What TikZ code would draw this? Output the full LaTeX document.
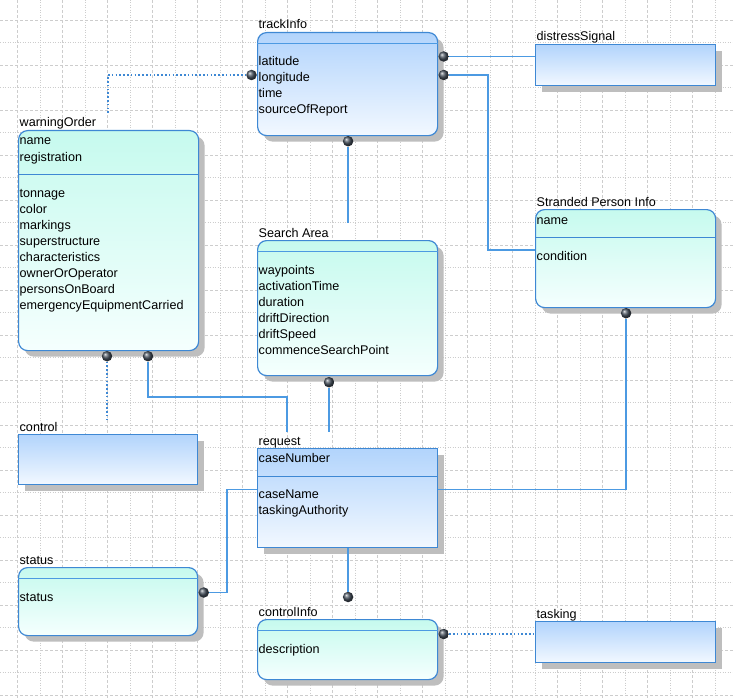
\documentclass[tikz,border=0pt]{standalone}
\usepackage{fontspec}
\setmainfont{Liberation Sans}
\usetikzlibrary{shadows, calc, backgrounds}
\definecolor{erBorder}{RGB}{62, 136, 212}
\definecolor{erLine}{RGB}{76, 154, 226}
\definecolor{blueTop}{RGB}{178, 212, 252}
\definecolor{blueBot}{RGB}{242, 248, 255}
\definecolor{cyanTop}{RGB}{198, 250, 238}
\definecolor{cyanBot}{RGB}{245, 255, 254}
\definecolor{gridGray}{RGB}{205, 205, 205}
\definecolor{shadowGray}{RGB}{190, 190, 190}
\definecolor{dotGray}{RGB}{70, 80, 92}
\tikzset{
    x=1bp, y=-1bp, % 以像素为单位，y 轴向下
    font=\fontsize{12.6bp}{16bp}\selectfont,
    %
    % 基础实体框
    baseBox/.style={
        draw=erBorder, line width=1.2bp, inner sep=0pt,
        anchor=north west, minimum width=180bp,
        drop shadow={shadow xshift=6bp, shadow yshift=-6bp, fill=shadowGray, opacity=1}
    },
    %
    blueBox/.style={baseBox, top color=blueTop, bottom color=blueBot},
    cyanBox/.style={baseBox, top color=cyanTop, bottom color=cyanBot},
    roundBox/.style={rounded corners=9bp},
    %
    % 文字
    entTitle/.style={anchor=base west, inner sep=0pt, xshift=1.5bp, yshift=3bp},
    attr/.style={anchor=base west, inner sep=0pt},
    %
    % 分隔线
    headSep/.style={draw=erLine, line width=1.8bp},
    keySep/.style={draw=erBorder, line width=1bp},
    %
    % 连线样式
    conn/.style={draw=erLine, line width=1.6bp},
    optConn/.style={draw=erBorder, line width=1.2bp, dash pattern=on 1.6bp off 2.2bp},
    dot/.style={circle, inner sep=0pt, minimum size=10.5bp, ball color=dotGray},
    gridDash/.style={draw=gridGray, line width=0.7bp, dash pattern=on 3bp off 2bp},
    gridDot/.style={draw=gridGray, line width=0.7bp, dash pattern=on 1bp off 1.5bp}
}

\begin{document}
\begin{tikzpicture}

	%% 背景网格
	\useasboundingbox (0,0) rectangle (733,698);
	\fill[white] (0,0) rectangle (733,698);
	\foreach \k in {0,...,32}{
		\pgfmathsetmacro\gs{isodd(\k) ? "gridDot" : "gridDash"}
		\draw[\gs] ({17.5+22.5*\k},0) -- ({17.5+22.5*\k},698);
	}
	\foreach \k in {0,...,30}{
		\pgfmathsetmacro\gs{isodd(\k) ? "gridDot" : "gridDash"}
		\draw[\gs] (0,{20+22.5*\k}) -- (733,{20+22.5*\k});
	}

	%% 实体框
	\node[blueBox, roundBox, minimum height=103bp] (track) at (257,32) {};
	\node[blueBox, minimum height=41bp] (distress) at (535,44) {};
	\node[cyanBox, roundBox, minimum height=220bp] (warn) at (18,130) {};
	\node[cyanBox, roundBox, minimum height=135bp] (search) at (257,240) {};
	\node[cyanBox, roundBox, minimum height=98bp] (stranded) at (535,209) {};
	\node[blueBox, minimum width=179bp, minimum height=50bp] (control) at (18,434) {};
	\node[blueBox, minimum height=99bp] (request) at (257,448) {};
	\node[cyanBox, roundBox, minimum width=179bp, minimum height=68bp] (status) at (18,567) {};
	\node[cyanBox, roundBox, minimum height=60bp] (ctrlInfo) at (257,619) {};
	\node[blueBox, minimum height=41bp] (tasking) at (535,621) {};

	%% 标题
	\node[entTitle] (trackT) at (track.north west) {trackInfo};
	\node[entTitle] (distressT) at (distress.north west) {distressSignal};
	\node[entTitle] (warnT) at (warn.north west) {warningOrder};
	\node[entTitle] (searchT) at (search.north west) {Search Area};
	\node[entTitle] (strandedT) at (stranded.north west) {Stranded Person Info};
	\node[entTitle] (controlT) at (control.north west) {control};
	\node[entTitle] (requestT) at (request.north west) {request};
	\node[entTitle] (statusT) at (status.north west) {status};
	\node[entTitle] (ctrlInfoT) at (ctrlInfo.north west) {controlInfo};
	\node[entTitle] (taskingT) at (tasking.north west) {tasking};

	%% 分隔线
	\draw[headSep] ($(track.north west)+(0,11.5)$) -- ($(track.north east)+(0,11.5)$);
	\draw[headSep] ($(search.north west)+(0,11.5)$) -- ($(search.north east)+(0,11.5)$);
	\draw[headSep] ($(status.north west)+(0,11.5)$) -- ($(status.north east)+(0,11.5)$);
	\draw[headSep] ($(ctrlInfo.north west)+(0,11.5)$) -- ($(ctrlInfo.north east)+(0,11.5)$);
	\draw[keySep] ($(warn.north west)+(0,44)$) -- ($(warn.north east)+(0,44)$);
	\draw[keySep] ($(stranded.north west)+(0,28)$) -- ($(stranded.north east)+(0,28)$);
	\draw[keySep] ($(request.north west)+(0,28)$) -- ($(request.north east)+(0,28)$);

	%% 属性
	\foreach \a [count=\i from 0] in {latitude, longitude, time, sourceOfReport}
		\node[attr] (trackA\i) at ($(track.north west)+(1.5,34+16*\i)$) {\a};
	\foreach \a [count=\i from 0] in {name, registration}
		\node[attr] (warnK\i) at ($(warn.north west)+(1.5,15+16*\i)$) {\a};
	\foreach \a [count=\i from 0] in {tonnage, color, markings, superstructure, characteristics,
			ownerOrOperator, personsOnBoard, emergencyEquipmentCarried}
		\node[attr] (warnA\i) at ($(warn.north west)+(1.5,67+16*\i)$) {\a};
	\foreach \a [count=\i from 0] in {waypoints, activationTime, duration, driftDirection,
			driftSpeed, commenceSearchPoint}
		\node[attr] (searchA\i) at ($(search.north west)+(1.5,34+16*\i)$) {\a};
	\node[attr] (strandedK) at ($(stranded.north west)+(1.5,15.5)$) {name};
	\node[attr] (strandedA) at ($(stranded.north west)+(1.5,51)$) {condition};
	\node[attr] (requestK) at ($(request.north west)+(1.5,14.5)$) {caseNumber};
	\foreach \a [count=\i from 0] in {caseName, taskingAuthority}
		\node[attr] (requestA\i) at ($(request.north west)+(1.5,50.5+16*\i)$) {\a};
	\node[attr] (statusA) at ($(status.north west)+(1.5,34.5)$) {status};
	\node[attr] (ctrlInfoA) at ($(ctrlInfo.north west)+(1.5,34)$) {description};

	%% 连接点
	\node[dot] (tkL) at ($(track.north west)+(-5.5,43)$) {};
	\node[dot] (tkR1) at ($(track.north east)+(5.5,24.5)$) {};
	\node[dot] (tkR2) at ($(track.north east)+(5.5,43)$) {};
	\node[dot] (tkB) at ($(track.south)+(0.5,5)$) {};
	\node[dot] (woB1) at ($(warn.south west)+(89,5)$) {};
	\node[dot] (woB2) at ($(warn.south west)+(130,5)$) {};
	\node[dot] (saB) at ($(search.south west)+(72,6)$) {};
	\node[dot] (spB) at ($(stranded.south)+(0.5,5)$) {};
	\node[dot] (stR) at ($(status.north east)+(5.5,25.5)$) {};
	\node[dot] (ciT) at ($(ctrlInfo.north)+(0.5,-22)$) {};
	\node[dot] (ciR) at ($(ctrlInfo.north east)+(5.5,15)$) {};

	% 自由端
	\coordinate (woTop) at ($(warn.north west)+(90,-17)$);
	\coordinate (saTop) at ($(search.north)+(0.5,-17)$);
	\coordinate (rqTop1) at ($(request.north west)+(72,-16)$);
	\coordinate (rqTop2) at ($(request.north west)+(30,-16)$);
	\coordinate (ctTop) at ($(control.north west)+(89,-14)$);
	\coordinate (rqL) at ($(request.north west)+(0,41.5)$);
	\coordinate (rqR) at ($(request.north east)+(0,41.5)$);
	\coordinate (rqB) at ($(request.south)+(0.5,0)$);
	\coordinate (spIn) at ($(stranded.north west)+(0,41)$);

	%% 连线
	\draw[conn] (tkR1) -- (tkR1 -| distress.west);
	\draw[conn] (tkR2) -- ++(44,0) |- (spIn);
	\draw[conn] (tkB) -- (saTop);
	\draw[optConn] (woTop) |- (tkL);
	\draw[optConn] (woB1) -- (ctTop);
	\draw[conn] (woB2) |- ($(rqTop2)+(0,-35)$) -- (rqTop2);
	\draw[conn] (saB) -- (rqTop1);
	\draw[conn] (rqR) -| (spB);
	\draw[conn] (rqL) -- ++(-30,0) |- (stR);
	\draw[conn] (rqB) -- (ciT);
	\draw[optConn] (ciR) -- (ciR -| tasking.west);

\end{tikzpicture}
\end{document}
